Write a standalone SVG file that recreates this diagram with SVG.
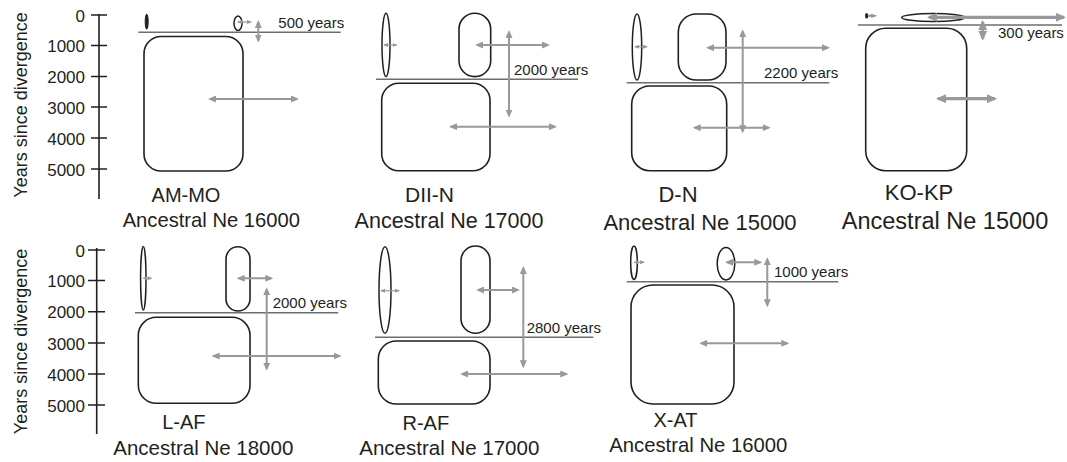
<svg xmlns="http://www.w3.org/2000/svg" width="1067" height="462" viewBox="0 0 1067 462">
<defs>
<style>
text{font-family:"Liberation Sans",Arial,sans-serif;fill:#231f20}
.box{fill:none;stroke:#231f20;stroke-width:1.6}
.blob{fill:none;stroke:#231f20;stroke-width:1.5}
.sep{stroke:#6d6e71;stroke-width:1.5;fill:none}
.axis{stroke:#231f20;stroke-width:1.6;fill:none}
.arr{stroke:#999;stroke-width:2;fill:none;marker-start:url(#m);marker-end:url(#m)}
.arr-s{stroke:#999;stroke-width:1.2;fill:none;marker-start:url(#s);marker-end:url(#s)}
.arr-l{stroke:#999;stroke-width:3.2;fill:none;marker-start:url(#l);marker-end:url(#l)}
.num{font-size:17px;text-anchor:end}
.ylab{font-size:18px;text-anchor:middle}
.yrs{font-size:15px}
.mid{text-anchor:middle}
</style>
<marker id="m" viewBox="0 0 8 7" refX="6" refY="3.5" markerWidth="8" markerHeight="7" markerUnits="userSpaceOnUse" orient="auto-start-reverse"><path d="M0,0 L8,3.5 L0,7 z" fill="#999"/></marker>
<marker id="s" viewBox="0 0 5 4" refX="4" refY="2" markerWidth="5" markerHeight="4" markerUnits="userSpaceOnUse" orient="auto-start-reverse"><path d="M0,0 L5,2 L0,4 z" fill="#999"/></marker>
<marker id="l" viewBox="0 0 10 9" refX="8" refY="4.5" markerWidth="10" markerHeight="9" markerUnits="userSpaceOnUse" orient="auto-start-reverse"><path d="M0,0 L10,4.5 L0,9 z" fill="#999"/></marker>
</defs>
<rect width="1067" height="462" fill="#fff"/>

<g id="axis-top">
<path class="axis" d="M99,14 V199 M91,15 H107 M91,45.5 H107 M91,76.5 H107 M91,107 H107 M91,138 H107 M91,169 H107"/>
<text class="num" x="85" y="21.5">0</text>
<text class="num" x="85" y="52">1000</text>
<text class="num" x="85" y="83">2000</text>
<text class="num" x="85" y="113.5">3000</text>
<text class="num" x="85" y="144.5">4000</text>
<text class="num" x="85" y="175.5">5000</text>
<text class="ylab" transform="translate(27,105) rotate(-90)">Years since divergence</text>
</g>

<g id="axis-bottom">
<path class="axis" d="M96.7,248 V434 M88,250 H105 M88,280.5 H105 M88,311.7 H105 M88,343 H105 M88,374 H105 M88,405 H105"/>
<text class="num" x="85" y="256.5">0</text>
<text class="num" x="85" y="287">1000</text>
<text class="num" x="85" y="318">2000</text>
<text class="num" x="85" y="349.5">3000</text>
<text class="num" x="85" y="380.5">4000</text>
<text class="num" x="85" y="411.5">5000</text>
<text class="ylab" transform="translate(27,341.5) rotate(-90)">Years since divergence</text>
</g>

<g id="panel-AM-MO">
<ellipse cx="146.7" cy="21.7" rx="1.5" ry="7.5" fill="#231f20" stroke="#231f20" stroke-width="1"/>
<ellipse class="blob" cx="238" cy="23.3" rx="4" ry="7.3"/>
<line class="sep" x1="138.3" y1="32.3" x2="340.7" y2="32.3"/>
<rect class="box" x="144" y="36.5" width="99" height="134.5" rx="17"/>
<text class="yrs" x="278.3" y="27.7">500 years</text>
<text class="mid" x="186" y="201.7" font-size="20">AM-MO</text>
<text class="mid" x="211.3" y="227" font-size="20.2">Ancestral Ne 16000</text>
</g>

<g id="panel-DII-N">
<ellipse class="blob" cx="386" cy="45" rx="4" ry="31.7"/>
<rect class="box" x="459" y="13.3" width="31.7" height="63.3" rx="15.8"/>
<line class="sep" x1="376" y1="79.3" x2="578" y2="79.3"/>
<rect class="box" x="381.7" y="83.3" width="108.3" height="87.4" rx="17"/>
<text class="yrs" x="514" y="75">2000 years</text>
<text class="mid" x="429.5" y="201.7" font-size="21">DII-N</text>
<text class="mid" x="449" y="228" font-size="21.5">Ancestral Ne 17000</text>
</g>

<g id="panel-D-N">
<ellipse class="blob" cx="637" cy="47" rx="4.7" ry="33"/>
<rect class="box" x="678.3" y="14" width="47.7" height="66" rx="18"/>
<line class="sep" x1="626.7" y1="82.7" x2="829.3" y2="82.7"/>
<rect class="box" x="631.7" y="86" width="95" height="84.7" rx="18"/>
<text class="yrs" x="764" y="78.3">2200 years</text>
<text class="mid" x="678" y="202" font-size="22">D-N</text>
<text class="mid" x="700" y="229.5" font-size="22">Ancestral Ne 15000</text>
</g>

<g id="panel-KO-KP">
<ellipse cx="866.7" cy="15.8" rx="1.7" ry="2.8" fill="#231f20"/>
<ellipse class="blob" cx="933.3" cy="17.5" rx="31.7" ry="4"/>
<line class="sep" x1="858" y1="25" x2="1062" y2="25"/>
<rect class="box" x="865.7" y="28.3" width="101" height="142.4" rx="20"/>
<text class="yrs" x="998" y="38.3" font-size="15.5">300 years</text>
<text class="mid" x="919" y="200" font-size="22">KO-KP</text>
<text class="mid" x="945" y="229" font-size="23.5">Ancestral Ne 15000</text>
</g>

<g id="panel-L-AF">
<ellipse class="blob" cx="143.3" cy="278.3" rx="2.7" ry="31.7"/>
<rect class="box" x="226" y="246.7" width="24" height="64.3" rx="12"/>
<line class="sep" x1="135" y1="312.7" x2="338.3" y2="312.7"/>
<rect class="box" x="138.3" y="317.3" width="111.7" height="86" rx="18"/>
<text class="yrs" x="272.7" y="308.3">2000 years</text>
<text class="mid" x="183.8" y="429.3" font-size="20">L-AF</text>
<text class="mid" x="203.3" y="455" font-size="20.5">Ancestral Ne 18000</text>
</g>

<g id="panel-R-AF">
<ellipse class="blob" cx="385" cy="290" rx="6" ry="43.3"/>
<rect class="box" x="461" y="246" width="29" height="87.3" rx="14.5"/>
<line class="sep" x1="375" y1="337.3" x2="593.3" y2="337.3"/>
<rect class="box" x="378.3" y="341" width="111.7" height="63" rx="18"/>
<text class="yrs" x="526.7" y="333.3">2800 years</text>
<text class="mid" x="425.8" y="430" font-size="20">R-AF</text>
<text class="mid" x="449.3" y="455" font-size="20.5">Ancestral Ne 17000</text>
</g>

<g id="panel-X-AT">
<ellipse class="blob" cx="634" cy="262.7" rx="3.3" ry="16.7"/>
<ellipse class="blob" cx="726" cy="263.7" rx="8.8" ry="16.3"/>
<line class="sep" x1="626.7" y1="281.7" x2="838.3" y2="281.7"/>
<rect class="box" x="631" y="285" width="103" height="119" rx="22"/>
<text class="yrs" x="774" y="277.3" font-size="13.5">1000 years</text>
<text class="mid" x="675.5" y="426.7" font-size="20">X-AT</text>
<text class="mid" x="698.3" y="451.7" font-size="20.3">Ancestral Ne 16000</text>
</g>

<g id="connectors">
<line class="arr-s" x1="238" y1="22" x2="251" y2="22"/>
<line class="arr" x1="258.3" y1="22" x2="258.3" y2="40.5"/>
<line class="arr" x1="210" y1="99" x2="297" y2="99"/>

<line class="arr-s" x1="384" y1="45" x2="396.5" y2="45"/>
<line class="arr" x1="477" y1="45" x2="548" y2="45"/>
<line class="arr" x1="509" y1="32" x2="509" y2="115.5"/>
<line class="arr" x1="451" y1="126.7" x2="555" y2="126.7"/>

<line class="arr-s" x1="635" y1="46.7" x2="647" y2="46.7"/>
<line class="arr" x1="708" y1="47.7" x2="828" y2="47.7"/>
<line class="arr" x1="742.7" y1="31.3" x2="742.7" y2="131.3"/>
<line class="arr" x1="694.7" y1="127.7" x2="768.7" y2="127.7"/>

<line class="arr-s" x1="868" y1="15.8" x2="876" y2="15.8"/>
<line class="arr-l" x1="929" y1="17.3" x2="1064" y2="17.3"/>
<line class="arr-l" x1="982.7" y1="22" x2="982.7" y2="38.7"/>
<line class="arr-l" x1="938" y1="98.7" x2="995" y2="98.7"/>

<line class="arr-s" x1="143.5" y1="278.3" x2="151.5" y2="278.3"/>
<line class="arr" x1="238.7" y1="278.3" x2="271.3" y2="278.3"/>
<line class="arr" x1="266.7" y1="289.3" x2="266.7" y2="368.7"/>
<line class="arr" x1="213.7" y1="356" x2="339.7" y2="356"/>

<line class="arr-s" x1="381" y1="290.7" x2="399" y2="290.7"/>
<line class="arr" x1="478" y1="290" x2="518" y2="290"/>
<line class="arr" x1="523.3" y1="268" x2="523.3" y2="366.3"/>
<line class="arr" x1="462" y1="374" x2="566.3" y2="374"/>

<line class="arr-s" x1="634.5" y1="262.3" x2="644" y2="262.3"/>
<line class="arr" x1="727" y1="262.3" x2="760.3" y2="262.3"/>
<line class="arr" x1="767.3" y1="259.3" x2="767.3" y2="305.3"/>
<line class="arr" x1="701.3" y1="343.3" x2="787.3" y2="343.3"/>
</g>
</svg>
